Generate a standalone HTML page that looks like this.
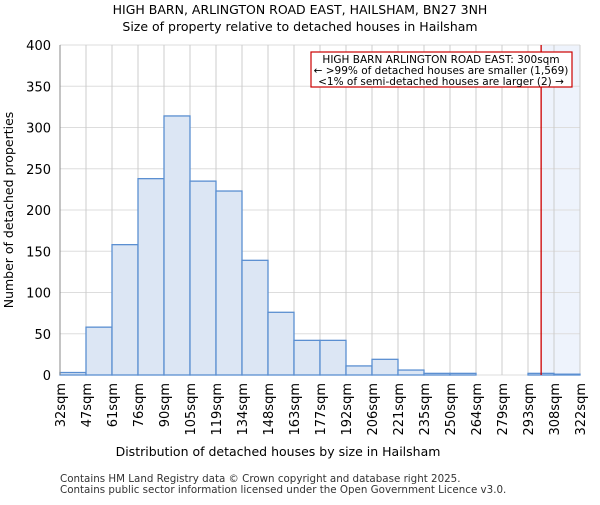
<!DOCTYPE html>
<html><head><meta charset="utf-8"><style>
body{margin:0;background:#fff;font-family:"Liberation Sans","DejaVu Sans",sans-serif}
</style></head><body>
<svg id="c" width="600" height="500" xmlns="http://www.w3.org/2000/svg" font-family="DejaVu Sans, Liberation Sans, sans-serif">
<text x="300" y="14" text-anchor="middle" font-size="12.5">HIGH BARN, ARLINGTON ROAD EAST, HAILSHAM, BN27 3NH</text>
<text x="300" y="31" text-anchor="middle" font-size="12.5">Size of property relative to detached houses in Hailsham</text>
<g id="grid"></g><g id="bars"></g><g id="axes"></g>
<text x="278" y="456" text-anchor="middle" font-size="12.5">Distribution of detached houses by size in Hailsham</text>
<text transform="translate(13,210) rotate(-90)" text-anchor="middle" font-size="12.5">Number of detached properties</text>
<text x="60" y="482" font-size="10.3" fill="#333">Contains HM Land Registry data © Crown copyright and database right 2025.</text>
<text x="60" y="493" font-size="10.3" fill="#333">Contains public sector information licensed under the Open Government Licence v3.0.</text>
</svg>
<script>
const categories=["32sqm","47sqm","61sqm","76sqm","90sqm","105sqm","119sqm","134sqm","148sqm","163sqm","177sqm","192sqm","206sqm","221sqm","235sqm","250sqm","264sqm","279sqm","293sqm","308sqm","322sqm"];
const counts=[3,58,158,238,314,235,223,139,76,42,42,11,19,6,2,2,0,0,2,1];
const yTicks=[0,50,100,150,200,250,300,350,400];
const binStarts=[32,47,61,76,90,105,119,134,148,163,177,192,206,221,235,250,264,279,293,308,322];
const markerValue=300;
const NS="http://www.w3.org/2000/svg";
const X0=60,X1=580,Y0=375,Y1=45;
const bw=(X1-X0)/counts.length;
const y=v=>Y0-(v/400)*(Y0-Y1);
const xi=i=>X0+i*bw;
const xv=v=>{for(let i=0;i<binStarts.length-1;i++){if(v<=binStarts[i+1])return xi(i)+bw*(v-binStarts[i])/(binStarts[i+1]-binStarts[i]);}return X1;};
function mk(p,t,a){const e=document.createElementNS(NS,t);for(const k in a)e.setAttribute(k,a[k]);document.getElementById(p).appendChild(e);return e;}
const mx=xv(markerValue)+1;
let s=mk("grid","rect",{x:mx,y:Y1,width:X1-mx,height:Y0-Y1,fill:"#eef3fc"});


yTicks.forEach(t=>{let l=mk("grid","line",{x1:X0,x2:X1,y1:y(t),y2:y(t),stroke:"#ddd"});


let tx=mk("axes","text",{x:X0-9,y:y(t)+5,"text-anchor":"end","font-size":13});tx.textContent=t;

});
categories.forEach((c,i)=>{const x=xi(i);let l=mk("grid","line",{x1:x,x2:x,y1:Y1,y2:Y0,stroke:"#ccc"});


let tx=mk("axes","text",{transform:`translate(${x+5},${Y0+8}) rotate(-90)`,"text-anchor":"end","font-size":13});tx.textContent=c;

});
counts.forEach((v,i)=>{let r=mk("bars","rect",{x:xi(i),y:y(v),width:bw,height:Y0-y(v),fill:"#dce6f4",stroke:"#5b8fd1","stroke-width":1.3});

});
let ml=mk("axes","line",{x1:mx,x2:mx,y1:Y1,y2:Y0,stroke:"#c00","stroke-width":1.3});


let ax=mk("axes","line",{x1:X0,x2:X0,y1:Y1,y2:Y0,stroke:"#888"});


let bx=mk("axes","rect",{x:311,y:52,width:261,height:35,fill:"#fff",stroke:"#c00","stroke-width":1.2});


["HIGH BARN ARLINGTON ROAD EAST: 300sqm","← >99% of detached houses are smaller (1,569)","<1% of semi-detached houses are larger (2) →"].forEach((t,i)=>{let tx=mk("axes","text",{x:441,y:63+i*11,"text-anchor":"middle","font-size":10.5});tx.textContent=t;

});
</script>
</body></html>
